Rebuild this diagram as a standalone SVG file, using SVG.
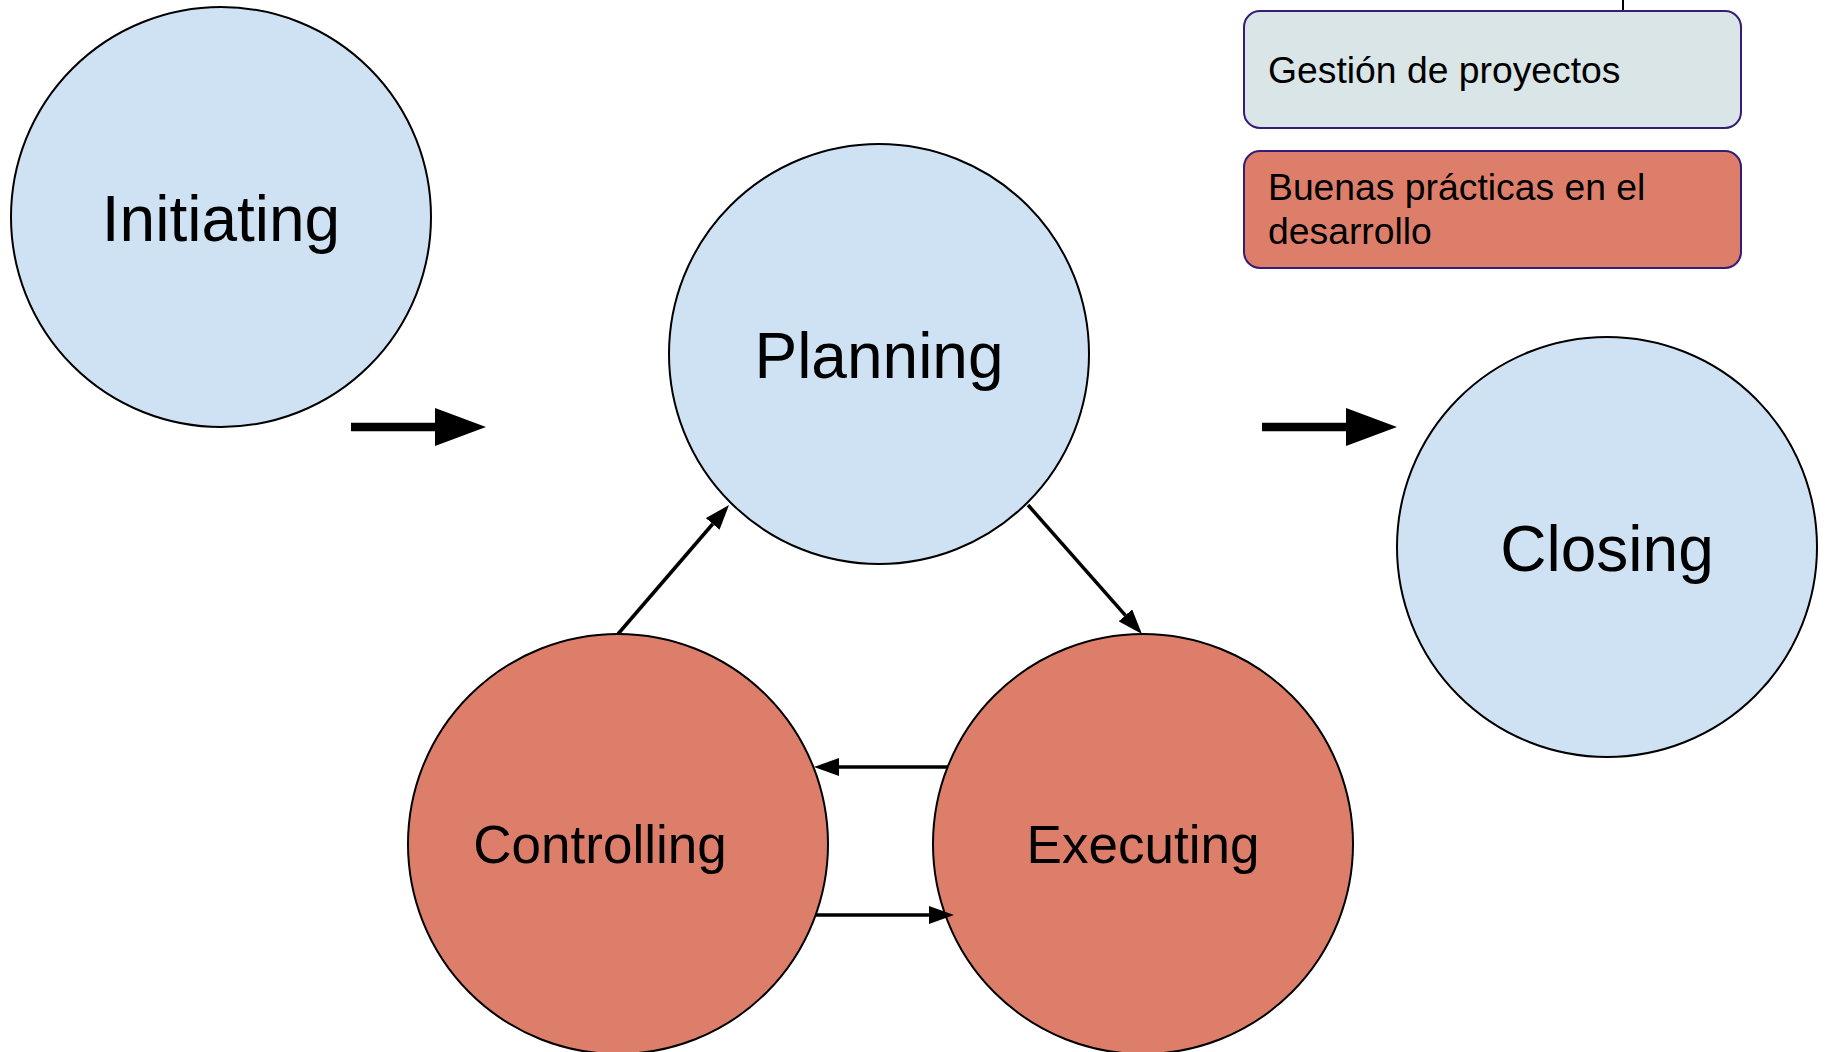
<svg xmlns="http://www.w3.org/2000/svg" width="1827" height="1052" viewBox="0 0 1827 1052">
  <style>
    .phase { stroke: #000; stroke-width: 2; }
    .mgmt { fill: #cfe2f3; }
    .dev { fill: #dd7e6b; }
    .label { font-family: "Liberation Sans", Arial, sans-serif; fill: #000; text-anchor: middle; }
    .big { font-size: 64px; }
    .mid { font-size: 53px; }
    .legend rect { stroke: #351c75; stroke-width: 2; }
    .legend text { font-family: "Liberation Sans", Arial, sans-serif; font-size: 37.3px; fill: #000; }
    .flow { stroke: #000; stroke-width: 3.5; fill: none; marker-end: url(#head); }
    .step { stroke: #000; stroke-width: 8.7; fill: none; marker-end: url(#bighead); }
  </style>
  <defs>
    <!-- heads start where the shaft ends -->
    <marker id="head" viewBox="0 0 25 18" refX="0" refY="9" markerWidth="25" markerHeight="18" markerUnits="userSpaceOnUse" orient="auto">
      <path d="M0,0 L25,9 L0,18 Z" fill="#000"/>
    </marker>
    <marker id="bighead" viewBox="0 0 51 38" refX="0" refY="19" markerWidth="51" markerHeight="38" markerUnits="userSpaceOnUse" orient="auto">
      <path d="M0,0 L51,19 L0,38 Z" fill="#000"/>
    </marker>
  </defs>

  <rect width="1827" height="1052" fill="#fff"/>

  <!-- legend -->
  <g class="legend" id="legend">
    <line x1="1623" y1="0" x2="1623" y2="11" stroke="#000" stroke-width="2"/>
    <g id="legend-gestion">
      <rect x="1244" y="11" width="497" height="117" rx="16" fill="#d9e5e6"/>
      <text x="1268" y="83">Gestión de proyectos</text>
    </g>
    <g id="legend-buenas">
      <rect x="1244" y="151" width="497" height="117" rx="16" fill="#dd7e6b"/>
      <text x="1268" y="200">Buenas prácticas en el</text>
      <text x="1268" y="244">desarrollo</text>
    </g>
  </g>

  <!-- phases -->
  <g id="initiating">
    <circle class="phase mgmt" cx="221" cy="217" r="210"/>
    <text class="label big" x="221" y="241">Initiating</text>
  </g>
  <g id="planning">
    <circle class="phase mgmt" cx="879" cy="354" r="210"/>
    <text class="label big" x="879" y="378">Planning</text>
  </g>
  <g id="closing">
    <circle class="phase mgmt" cx="1607" cy="547" r="210"/>
    <text class="label big" x="1607" y="571">Closing</text>
  </g>
  <g id="controlling">
    <circle class="phase dev" cx="618" cy="844" r="210"/>
    <text class="label mid" x="600" y="863">Controlling</text>
  </g>
  <g id="executing">
    <circle class="phase dev" cx="1143" cy="844" r="210"/>
    <text class="label mid" x="1143" y="863">Executing</text>
  </g>

  <!-- connectors -->
  <g id="connectors">
    <line class="step" x1="351" y1="427" x2="435" y2="427"/>
    <line class="step" x1="1262" y1="427" x2="1346" y2="427"/>
    <line class="flow" x1="618" y1="634" x2="712.7" y2="524"/>
    <line class="flow" x1="1028" y1="505" x2="1125.4" y2="615.3"/>
    <line class="flow" x1="948" y1="767" x2="839" y2="767"/>
    <line class="flow" x1="816" y1="915" x2="929" y2="915"/>
  </g>
</svg>
